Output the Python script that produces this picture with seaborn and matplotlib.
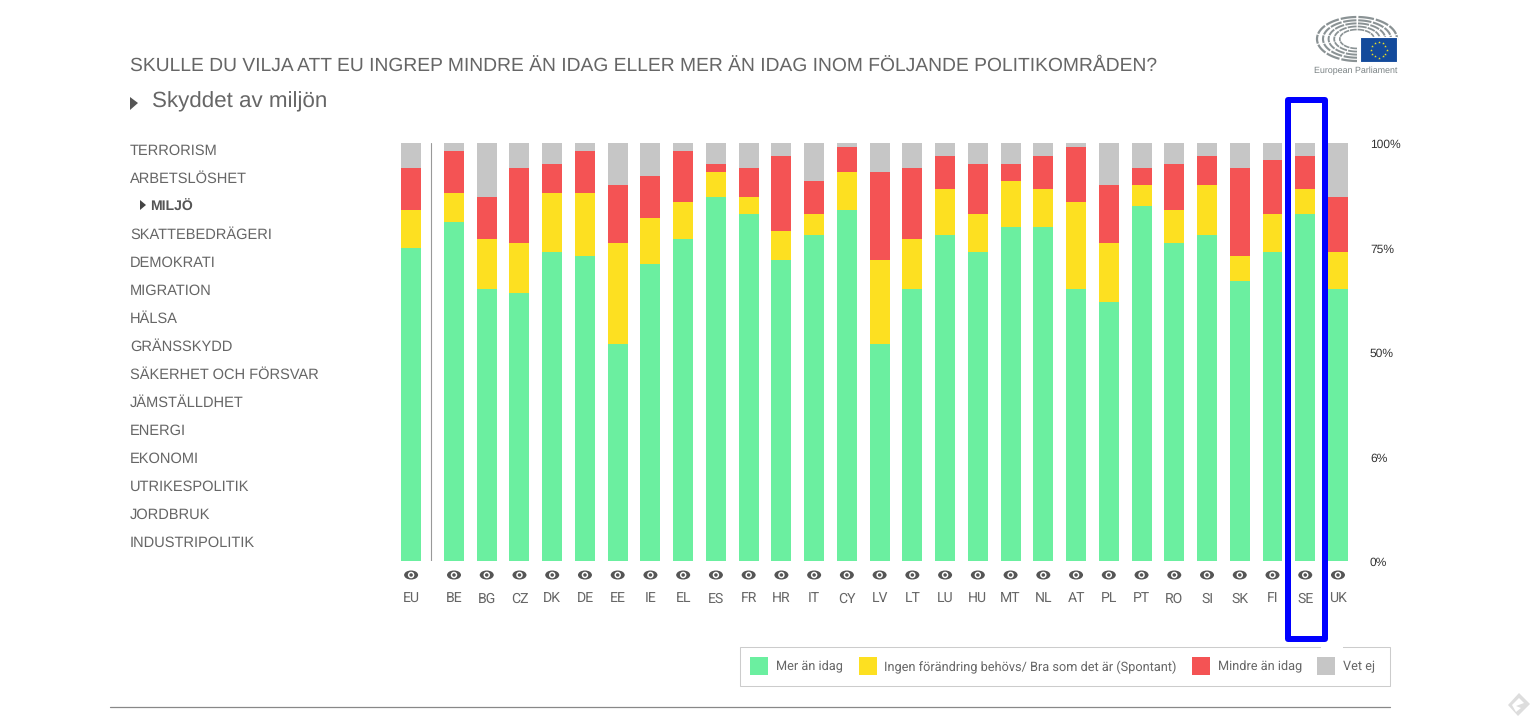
import numpy as np
import pandas as pd
import matplotlib
matplotlib.use('Agg')
import matplotlib.pyplot as plt
from matplotlib.patches import Rectangle, Ellipse, Polygon
from matplotlib.transforms import ScaledTranslation
import seaborn as sns

# values
countries = ['EU', 'BE', 'BG', 'CZ', 'DK', 'DE', 'EE', 'IE', 'EL', 'ES', 'FR', 'HR', 'IT', 'CY', 'LV',
             'LT', 'LU', 'HU', 'MT', 'NL', 'AT', 'PL', 'PT', 'RO', 'SI', 'SK', 'FI', 'SE', 'UK']
more = [75, 81, 65, 64, 74, 73, 52, 71, 77, 87, 83, 72, 78, 84, 52,
        65, 78, 74, 80, 80, 65, 62, 85, 76, 78, 67, 74, 83, 65]
same = [9, 7, 12, 12, 14, 15, 24, 11, 9, 6, 4, 7, 5, 9, 20,
        12, 11, 9, 11, 9, 21, 14, 5, 8, 12, 6, 9, 6, 9]
less = [10, 10, 10, 18, 7, 10, 14, 10, 12, 2, 7, 18, 8, 6, 21,
        17, 8, 12, 4, 8, 13, 14, 4, 11, 7, 21, 13, 8, 13]
dont_know = [6, 2, 13, 6, 5, 2, 10, 8, 2, 5, 6, 3, 9, 1, 7,
             6, 3, 5, 5, 3, 1, 10, 6, 5, 3, 6, 4, 3, 13]

series_names = ['Mer än idag', 'Ingen förändring behövs/ Bra som det är (Spontant)', 'Mindre än idag', 'Vet ej']
y_ticks = [0, 25, 50, 75, 100]
y_labels = ['0%', '6%', '50%', '75%', '100%']  # the 6% is a typo in the original
topics = ['TERRORISM', 'ARBETSLÖSHET', 'MILJÖ', 'SKATTEBEDRÄGERI', 'DEMOKRATI', 'MIGRATION', 'HÄLSA',
          'GRÄNSSKYDD', 'SÄKERHET OCH FÖRSVAR', 'JÄMSTÄLLDHET', 'ENERGI', 'EKONOMI', 'UTRIKESPOLITIK',
          'JORDBRUK', 'INDUSTRIPOLITIK']

GREEN, YELLOW, RED, GRAY = '#6BEFA0', '#FDE021', '#F45354', '#C6C6C6'
TEXT = '#666666'
W, H = 1538, 720

sns.set_theme(style='white')
plt.rcParams['font.family'] = ['Liberation Sans', 'DejaVu Sans']
plt.rcParams['text.hinting'] = 'no_hinting'

fig = plt.figure(figsize=(W / 100, H / 100), dpi=100, facecolor='white')


def px(size):
    # css pixels to points
    return size * 72 / 100


# chart axes, pixel rectangle 390..1350 x 143..561
ax = fig.add_axes([390 / W, 1 - 561 / H, 960 / W, 418 / H])

# EU stands apart from the member states
pos = np.r_[-1.31, np.arange(len(countries) - 1)]
df = pd.DataFrame({'pos': pos, 'more': more, 'same': same, 'less': less, 'dk': dont_know})
df['c_same'] = df['more'] + df['same']
df['c_less'] = df['c_same'] + df['less']
df['c_dk'] = df['c_less'] + df['dk']

# stacked by overdrawing from the tallest layer down
for col, color in [('c_dk', GRAY), ('c_less', RED), ('c_same', YELLOW), ('more', GREEN)]:
    sns.barplot(data=df, x='pos', y=col, native_scale=True, color=color, saturation=1,
                width=0.61, errorbar=None, linewidth=0, ax=ax)

ax.set_xlim((390 - 454) / 32.74, (1350 - 454) / 32.74)
ax.set_ylim(0, 100)
ax.set_xlabel('')
ax.set_ylabel('')
ax.set_xticks(pos, countries, fontsize=px(14), color=TEXT, family='Roboto')
ax.tick_params(axis='x', length=0, pad=px(41.5))
for lab in ax.get_xticklabels():
    lab.set_verticalalignment('baseline')
ax.yaxis.tick_right()
ax.set_yticks(y_ticks, y_labels, fontsize=px(12), color='#333333')
ax.tick_params(axis='y', length=0, pad=px(20))
# one pixel down, to sit where the original has them
for lab in ax.get_yticklabels():
    lab.set_transform(lab.get_transform() + ScaledTranslation(0, -1 / 100, fig.dpi_scale_trans))
sns.despine(ax=ax, left=True, bottom=True, right=True, top=True)
ax.axvline((431 - 454) / 32.74, color='#999999', lw=0.8)

# everything around the chart is placed in page pixels
page = fig.add_axes([0, 0, 1, 1], zorder=5)
page.set_xlim(0, W)
page.set_ylim(H, 0)
page.axis('off')
page.patch.set_alpha(0)

page.text(130, 66, 'SKULLE DU VILJA ATT EU INGREP MINDRE ÄN IDAG ELLER MER ÄN IDAG INOM FÖLJANDE POLITIKOMRÅDEN?',
          fontsize=px(19.3), color=TEXT, va='center')
page.text(152, 101.5, 'Skyddet av miljön', fontsize=px(22.4), color=TEXT, va='center')
page.add_patch(Polygon([(130, 97), (138, 103), (130, 110)], color='#555555', lw=0))

for i, topic in enumerate(topics):
    y = 151 + 28 * i
    if topic == 'MILJÖ':
        page.text(150, y, topic, fontsize=px(14), color='#555555', weight='bold', va='center')
        page.add_patch(Polygon([(140, 200), (146, 205), (140, 210)], color='#444444', lw=0))
    else:
        page.text(130, y, topic, fontsize=px(14.6), color=TEXT, va='center')

# eye icons under the bars
for p in pos:
    cx = 454 + 32.74 * p
    page.add_patch(Ellipse((cx, 575), 14, 9, color='#555555', lw=0))
    page.add_patch(Ellipse((cx, 575), 6.5, 6.5, color='white', lw=0))
    page.add_patch(Ellipse((cx, 575), 3.5, 3.5, color='#555555', lw=0))

# legend box
page.add_patch(Rectangle((739.5, 646.5), 650, 39, fc='white', ec='#CCCCCC', lw=0.75))
page.add_patch(Rectangle((1321, 644), 22, 5, fc='white', ec='none'))
legend_x = [(750, 776), (859, 884), (1192, 1218), (1317, 1343)]
for (sx, tx), name, color in zip(legend_x, series_names, [GREEN, YELLOW, RED, GRAY]):
    page.add_patch(Rectangle((sx, 657), 18, 18, fc=color, ec='none'))
    page.text(tx, 667, name, fontsize=px(12.7), color=TEXT, va='center', family='Roboto')

# blue highlight around SE
page.add_patch(Rectangle((1288, 100), 36.5, 539, fill=False, ec='#0000FF', lw=px(6), joinstyle='round'))

# footer line and corner mark
page.plot([110, 1390], [706.5, 706.5], color='#888888', lw=0.9)
page.add_patch(Polygon([(1519, 693), (1530, 704), (1518, 716), (1508, 705)], color='#DDDDDD', lw=0))
page.add_patch(Polygon([(1519, 698), (1524, 703), (1516, 706), (1521, 708), (1516, 712), (1512, 705)],
                       color='white', lw=0))

# parliament logo
cx, cy = 1357, 39
for scale, lw in zip([1.0, 0.85, 0.71, 0.57, 0.43], [1.6, 1.5, 1.4, 1.3, 1.2]):
    for a0 in np.arange(90, 352, 26):
        t = np.radians(np.linspace(a0, a0 + 23, 12))
        page.plot(cx + 40 * scale * np.cos(t), cy + 22 * scale * np.sin(t), color='#8A9294', lw=lw,
                  solid_capstyle='butt')
page.add_patch(Rectangle((1360, 37), 37, 25, fc='#134A9B', ec='white', lw=0.8, zorder=4))
t = np.radians(np.arange(0, 360, 30))
page.scatter(1378.5 + 8 * np.cos(t), 49.5 + 8 * np.sin(t), s=4, color='#F2E423', marker='*', lw=0, zorder=5)
page.text(1314, 70.5, 'European Parliament', fontsize=px(8.9), color='#7A8284', va='center')

fig.savefig('out.png', dpi=100, facecolor='white')
